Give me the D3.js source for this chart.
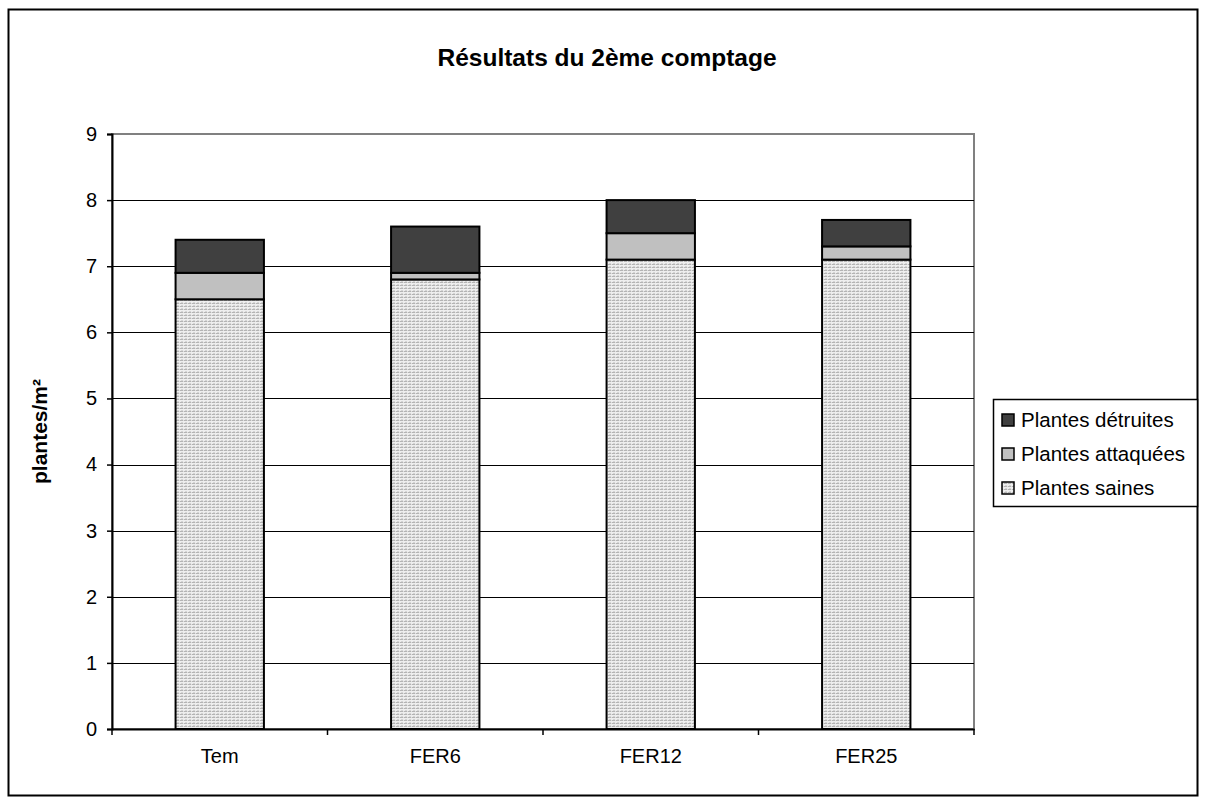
<!DOCTYPE html>
<html><head><meta charset="utf-8">
<script src="https://cdn.jsdelivr.net/npm/d3@7"></script>
<style>body{margin:0;background:#fff;} svg{display:block;font-family:"Liberation Sans",Arial,sans-serif;}</style>
</head><body>
<svg id="c" width="1206" height="804"></svg>
<script>
const categories = ["Tem", "FER6", "FER12", "FER25"];
const saines = [6.5, 6.8, 7.1, 7.1];
const attaquees = [0.4, 0.1, 0.4, 0.2];
const detruites = [0.5, 0.7, 0.5, 0.4];
const seriesNames = ["Plantes saines", "Plantes attaquées", "Plantes détruites"];
const yTicks = [0,1,2,3,4,5,6,7,8,9];
const title = "Résultats du 2ème comptage";
const yLabel = "plantes/m²";

const svg = d3.select("#c");
const defs = svg.append("defs");
const pat = defs.append("pattern").attr("id","dots").attr("patternUnits","userSpaceOnUse")
  .attr("width",4).attr("height",3);
pat.append("rect").attr("width",4).attr("height",3).attr("fill","#eeeeee");
pat.append("rect").attr("x",0).attr("y",0).attr("width",4).attr("height",1).attr("fill","#b4b4b4");
pat.append("rect").attr("x",3).attr("y",0).attr("width",1).attr("height",1).attr("fill","#e0e0e0");
pat.append("rect").attr("x",1).attr("y",2).attr("width",2).attr("height",1).attr("fill","#d4d4d4");

const fills = ["url(#dots)", "#c0c0c0", "#404040"];

// outer border
svg.append("rect").attr("x",8.5).attr("y",9.5).attr("width",1189).attr("height",786)
  .attr("fill","none").attr("stroke","#000").attr("stroke-width",2);

const L = 112, R = 974, T = 134, B = 729;
const x = d3.scaleBand().domain(categories).range([L,R]).paddingInner(0.59).paddingOuter(0.295);
const xb = d3.scaleBand().domain(categories).range([L,R]);
const y = d3.scaleLinear().domain([0,9]).range([B,T]);

// plot area border
svg.append("rect").attr("x",L).attr("y",T).attr("width",R-L).attr("height",B-T)
  .attr("fill","none").attr("stroke","#808080").attr("stroke-width",2);

// gridlines
svg.append("g").selectAll("line").data(yTicks.filter(d=>d>0 && d<9)).join("line")
  .attr("x1",L).attr("x2",R).attr("y1",d=>Math.round(y(d))+0.5).attr("y2",d=>Math.round(y(d))+0.5)
  .attr("stroke","#000").attr("stroke-width",1);

// stacked bars
const table = categories.map((c,i)=>({cat:c, s:saines[i], a:attaquees[i], d:detruites[i]}));
const stack = d3.stack().keys(["s","a","d"])(table);
svg.append("g").selectAll("g").data(stack).join("g")
  .attr("fill",(d,i)=>fills[i])
  .selectAll("rect").data(d=>d).join("rect")
  .attr("x",d=>x(d.data.cat)).attr("width",x.bandwidth())
  .attr("y",d=>y(d[1])).attr("height",d=>y(d[0])-y(d[1]))
  .attr("stroke","#000").attr("stroke-width",2);

// y axis
const ya = svg.append("g").attr("transform",`translate(${L},0)`)
  .call(d3.axisLeft(y).tickValues(yTicks).tickSize(5).tickPadding(10).tickFormat(d3.format("d")));
ya.select(".domain").attr("stroke","#000").attr("stroke-width",2);
ya.selectAll(".tick line").attr("stroke","#000").attr("stroke-width",1.5);
ya.selectAll("text").attr("font-size",20).attr("fill","#000").attr("font-family","Liberation Sans, Arial, sans-serif");

// x axis
const xa = svg.append("g").attr("transform",`translate(0,${B})`)
  .call(d3.axisBottom(xb).tickSize(0).tickPadding(20));
xa.select(".domain").attr("stroke","#000").attr("stroke-width",2);
xa.selectAll("text").attr("font-size",20).attr("fill","#000").attr("font-family","Liberation Sans, Arial, sans-serif");
xa.append("g").selectAll("line").data(categories.concat(["end"])).join("line")
  .attr("x1",(d,i)=>L+i*xb.step()).attr("x2",(d,i)=>L+i*xb.step())
  .attr("y1",0).attr("y2",6).attr("stroke","#000").attr("stroke-width",1.5);

// title
svg.append("text").attr("x",607).attr("y",66).attr("text-anchor","middle")
  .attr("font-size",24.5).attr("font-weight","bold").text(title);

// y label
svg.append("text").attr("transform",`translate(47,${(T+B)/2}) rotate(-90)`)
  .attr("text-anchor","middle").attr("font-size",21).attr("font-weight","bold").text(yLabel);

// legend
const lg = svg.append("g");
lg.append("rect").attr("x",993.5).attr("y",399.5).attr("width",204).attr("height",107)
  .attr("fill","#fff").attr("stroke","#000").attr("stroke-width",1.5);
const legendItems = [2,1,0];
legendItems.forEach((si,k)=>{
  const cy = 420 + k*34;
  lg.append("rect").attr("x",1002).attr("y",cy-6).attr("width",12).attr("height",12)
    .attr("fill",fills[si]).attr("stroke","#000").attr("stroke-width",1.5);
  lg.append("text").attr("x",1021).attr("y",cy+7).attr("font-size",20.5).text(seriesNames[si]);
});
</script>
</body></html>
